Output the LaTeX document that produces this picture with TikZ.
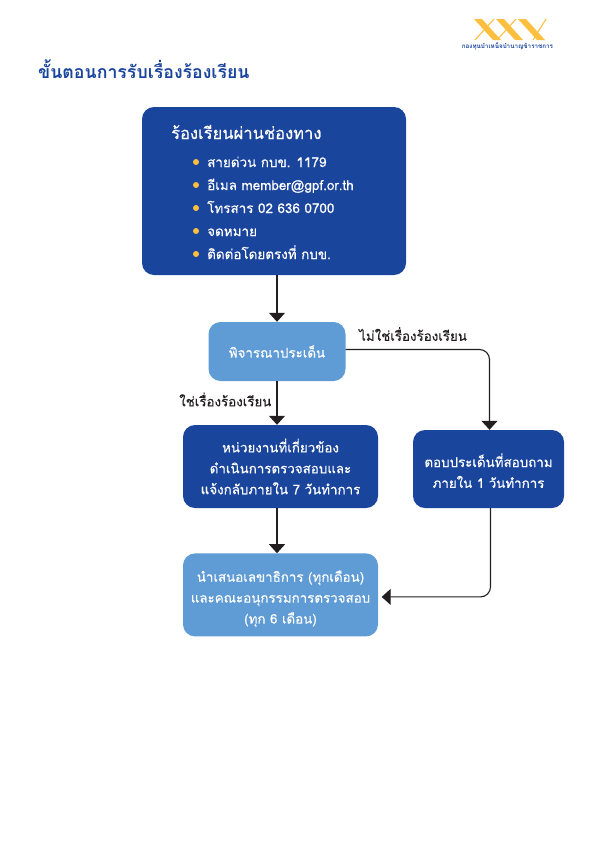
\documentclass[tikz,border=0pt]{standalone}
\usepackage{xcolor}
\usepackage{fontspec}
\usepackage{tikz}
\usetikzlibrary{arrows.meta, positioning}
\setmainfont[Script=Thai]{Loma}
\newfontfamily\medfont[Script=Thai,FakeBold=0.3]{Loma}
\definecolor{navybox}{HTML}{1A459C}
\definecolor{skybox}{HTML}{5F9BD5}
\definecolor{goldmark}{HTML}{FDBF3F}
\definecolor{inkline}{HTML}{231F20}

\begin{document}
\begin{tikzpicture}[
  x=1bp, y=-1bp,
  box/.style={rectangle, rounded corners=12bp, text=white, align=center,
              font=\medfont\fontsize{13.4}{21}\selectfont, inner sep=0pt},
  darkbox/.style={box, fill=navybox},
  lightbox/.style={box, fill=skybox},
  arr/.style={-{Triangle[length=9bp, width=16bp]}, line width=1.1bp, inkline, rounded corners=10bp},
  tag/.style={font=\medfont\fontsize{13.4}{16}\selectfont, text=inkline, inner sep=0pt},
  item/.style={anchor=base west, text=white, font=\medfont\fontsize{13.5}{16}\selectfont, inner sep=0pt},
]
  \useasboundingbox (0,0) rectangle (595,842);
  % header
  \node[anchor=base west, inner sep=0pt, text=navybox, font=\fontsize{17.8}{22}\selectfont\bfseries] (title) at (38,78) {ขั้นตอนการรับเรื่องร้องเรียน};
  \node[anchor=center, inner sep=0pt, text=navybox, font=\fontsize{6.3}{7}\selectfont\bfseries] (fund) at (507.5,46) {กองทุนบำเหน็จบำนาญข้าราชการ};
  % logo
  \foreach \xpos in {474,496,518}{
    \fill[goldmark] (\xpos,19) -- ++(8,0) -- ++(19,21) -- ++(-8,0) -- cycle;
  }
  \foreach \xpos/\xend in {475/494,497/516,533/546}{
    \draw[goldmark, line width=1.1bp] (\xpos,40) -- (\xend,19);
  }
  % boxes
  \node[darkbox, minimum width=264bp, minimum height=168bp] (channel) at (274,191) {};
  \node[lightbox, minimum width=137bp, minimum height=59bp] (consider) at (277,351.5) {พิจารณาประเด็น};
  \node[darkbox, minimum width=195bp, minimum height=83bp] (unit) at (280.5,466.5) {หน่วยงานที่เกี่ยวข้อง\\ดำเนินการตรวจสอบและ\\แจ้งกลับภายใน 7 วันทำการ};
  \node[darkbox, minimum width=151bp, minimum height=78bp] (answer) at (488.5,469) {\rule{0pt}{17bp}ตอบประเด็นที่สอบถาม\\ภายใน 1 วันทำการ};
  \node[lightbox, below=45bp of unit, minimum width=195bp, minimum height=83bp] (report) {\rule{0pt}{19bp}นำเสนอเลขาธิการ (ทุกเดือน)\\และคณะอนุกรรมการตรวจสอบ\\(ทุก 6 เดือน)};
  % channel list
  \node[item, font=\medfont\fontsize{16.6}{18}\selectfont] (channeltitle) at (171,139) {ร้องเรียนผ่านช่องทาง};
  \foreach \name/\ypos/\txt in {hotline/162/สายด่วน กบข. 1179, mail/185/อีเมล member@gpf.or.th, fax/208/โทรสาร 02 636 0700, letter/231/จดหมาย, direct/254/ติดต่อโดยตรงที่ กบข.}{
    \fill[goldmark] (196,\ypos) circle (3bp);
    \node[item] (\name) at (207,\ypos+5) {\txt};
  }
  % connectors
  \draw[arr] (channel.south -| consider) -- (consider);
  \draw[arr] (consider) -- node[tag, pos=0.42, left=5bp] (yes) {ใช่เรื่องร้องเรียน} (consider |- unit.north);
  \draw[arr] ([yshift=2bp]consider.east) -| ([xshift=1bp]answer.north);
  \draw[arr] (consider |- unit.south) -- (consider |- report.north);
  \draw[arr] ([xshift=2bp]answer.south) |- ([xshift=3.5bp,yshift=-2bp]report.east);
  \node[tag, anchor=west] (no) at (359,334) {ไม่ใช่เรื่องร้องเรียน};
\end{tikzpicture}
\end{document}
